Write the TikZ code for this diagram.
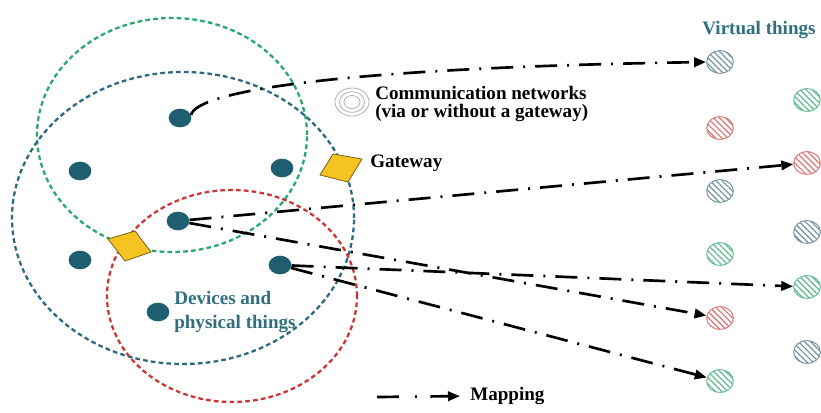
\documentclass[tikz,border=0pt]{standalone}
\usepackage{fontspec}
\setmainfont{Liberation Serif}
\usetikzlibrary{shapes.geometric,arrows.meta,patterns.meta}

\definecolor{devteal}{RGB}{31,94,110}
\definecolor{labteal}{RGB}{47,111,128}
\definecolor{ringgreen}{RGB}{38,168,108}
\definecolor{ringblue}{RGB}{44,104,128}
\definecolor{ringred}{RGB}{205,52,52}
\definecolor{gwfill}{RGB}{246,196,32}
\definecolor{gwedge}{RGB}{120,95,30}
\definecolor{vblue}{RGB}{115,145,160}
\definecolor{vred}{RGB}{222,115,115}
\definecolor{vgreen}{RGB}{95,185,145}

\begin{document}
\begin{tikzpicture}[x=0.75pt,y=-0.75pt,
  device/.style={ellipse,fill=devteal,minimum width=17pt,minimum height=14pt,inner sep=0pt},
  virtual/.style={ellipse,draw=#1,line width=0.7pt,
    pattern={Lines[angle=-45,distance=3.2pt,line width=0.9pt]},pattern color=#1,
    minimum width=20pt,minimum height=17pt,inner sep=0pt},
  ring/.style={draw=#1,line width=1.7pt,dash pattern=on 3.5pt off 2.4pt},
  mapping/.style={draw=black,line width=2pt,
    dash pattern=on 16.5pt off 7.5pt on 1.5pt off 7.5pt,
    -{Triangle[length=9pt,width=7pt]}},
  legendmap/.style={draw=black,line width=2pt,
    dash pattern=on 16.5pt off 12pt on 1.5pt off 10pt on 40pt,
    -{Triangle[length=9pt,width=7pt]}},
  gateway/.style={fill=gwfill,draw=gwedge,line width=0.6pt,line join=round},
  lab/.style={font=\fontsize{14.3}{13.5}\selectfont\bfseries,inner sep=0pt,align=left},
  tlab/.style={font=\fontsize{14.3}{18.4}\selectfont\bfseries,inner sep=0pt,align=left,text=labteal},
]
% canvas
\fill[white] (0,0) rectangle (821,412);
\useasboundingbox (0,0) rectangle (821,412);

% dashed coverage areas
\draw[ring=ringgreen] (172,135) ellipse [x radius=101.25pt, y radius=87.75pt];
\draw[ring=ringblue]  (183,218) ellipse [x radius=128.25pt, y radius=109.5pt];
\draw[ring=ringred]   (232,296) ellipse [x radius=93.75pt, y radius=79.5pt];

% gateways
\coordinate (g1) at (341,168);
\coordinate (g2) at (130,246);
\filldraw[gateway] (320,175) -- (333,154) -- (362,159) -- (348,182) -- cycle;
\filldraw[gateway] (108,239) -- (135,231) -- (151,252) -- (125,261) -- cycle;

% devices and physical things
\node[device] (d1) at (180,118) {};
\node[device] (d2) at (80,171) {};
\node[device] (d3) at (282,168) {};
\node[device] (d4) at (178,221) {};
\node[device] (d5) at (80,260) {};
\node[device] (d6) at (280,265) {};
\node[device] (d7) at (158,312) {};

% virtual things
\node[virtual=vblue]  (vl1) at (720,62) {};
\node[virtual=vred]   (vl2) at (720,128) {};
\node[virtual=vblue]  (vl3) at (720,191) {};
\node[virtual=vgreen] (vl4) at (720,254) {};
\node[virtual=vred]   (vl5) at (720,318) {};
\node[virtual=vgreen] (vl6) at (720,381) {};
\node[virtual=vgreen] (vr1) at (807,100) {};
\node[virtual=vred]   (vr2) at (807,163) {};
\node[virtual=vblue]  (vr3) at (807,232) {};
\node[virtual=vgreen] (vr4) at (807,287) {};
\node[virtual=vblue]  (vr5) at (807,352) {};

% communication network icon
\coordinate (cn) at (352,102);
\foreach \rx/\ry in {12.75/10.5, 9.4/7.8, 6/4.9}
  \draw[black!35,line width=0.5pt] (cn) ellipse [x radius=\rx pt, y radius=\ry pt];

% labels
\node[tlab,anchor=center] (vt) at (759,30) {Virtual things};
\node[lab,anchor=west] (comm) at (375,104) {Communication networks\\(via or without a gateway)};
\node[lab,anchor=west] (gwlab) at (370,163) {Gateway};
\node[tlab,anchor=west] (devlab) at (174,312) {Devices and\\physical things};

% mappings
\draw[mapping] (d1.15) .. controls (196,92) and (330,68) .. (vl1.west);
\draw[mapping] (d4) -- (vr2);
\draw[mapping] (d4) -- (vl5);
\draw[mapping] (d6) -- (vr4);
\draw[mapping] (d6) -- (vl6);

% legend
\coordinate (lg) at (377,397);
\node[lab,anchor=west] (maplab) at (470,396) {Mapping};
\draw[legendmap,shorten >=7.5pt] (lg) -- (maplab.west);
\end{tikzpicture}
\end{document}
